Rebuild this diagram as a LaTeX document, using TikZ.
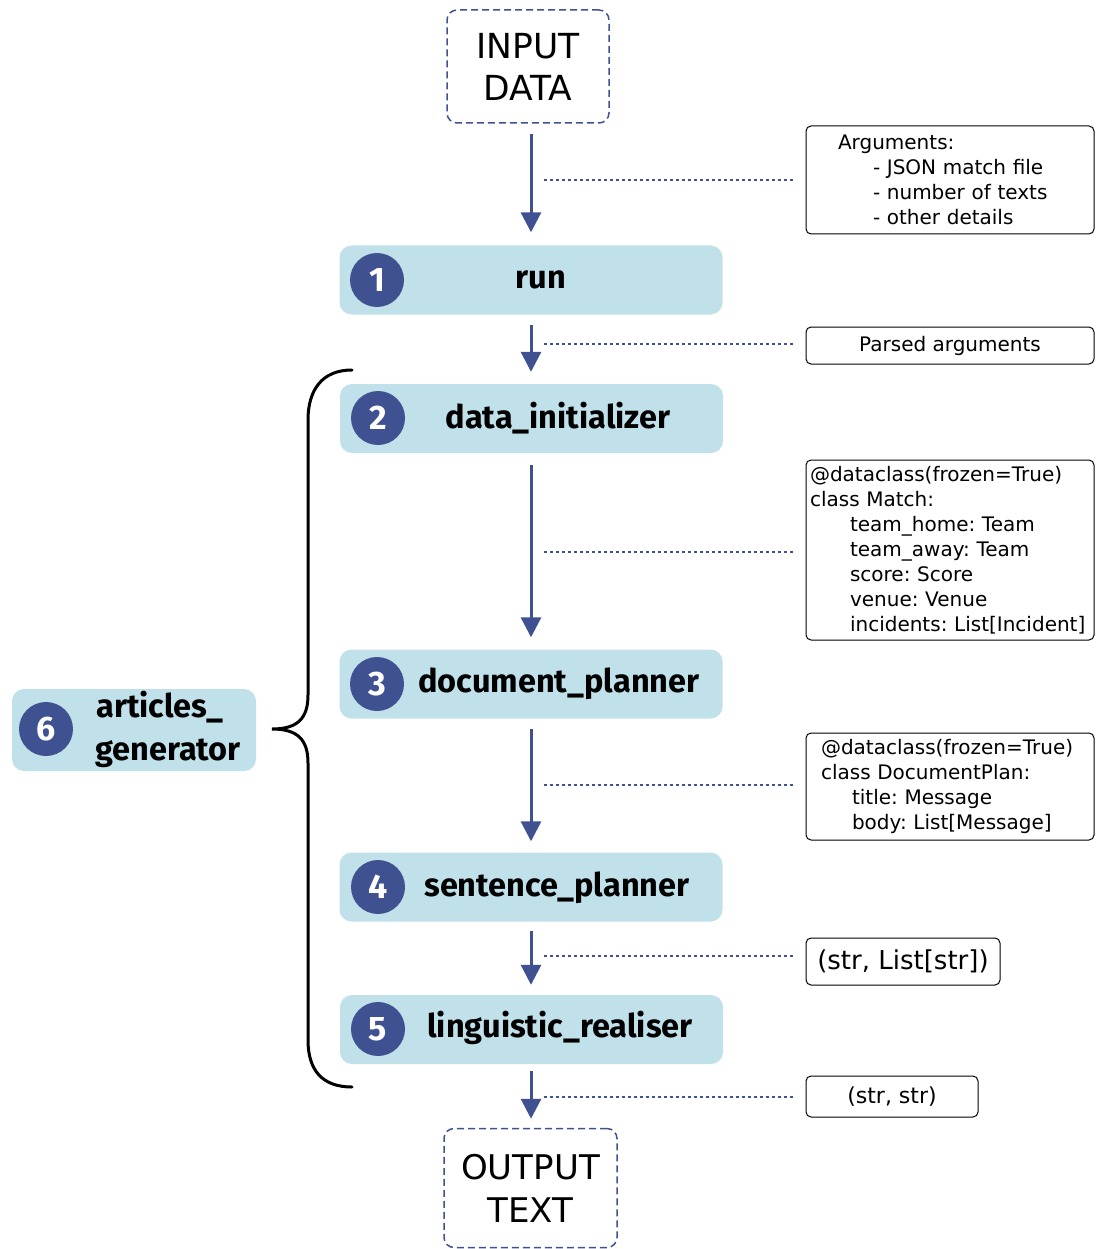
\documentclass[tikz,border=0pt]{standalone}
\usepackage{fontspec}
\setmainfont{DejaVu Sans}
\newfontfamily\labfont{Fira Sans}
\usetikzlibrary{arrows.meta}
\definecolor{navy}{HTML}{3F5190}
\definecolor{lightb}{HTML}{C0E0EA}
\frenchspacing
\tikzset{
  stage/.style={fill=lightb, rounded corners=12pt, minimum width=383pt, minimum height=69pt, inner sep=0pt},
  numc/.style={circle, fill=navy, minimum size=54pt, inner sep=0pt, text=white, font=\labfont\bfseries\fontsize{34}{34}\selectfont},
  stagetxt/.style={font=\labfont\bfseries\fontsize{32.5}{32.5}\selectfont, inner sep=0pt},
  iobox/.style={draw=navy, dashed, dash pattern=on 7pt off 4pt, line width=1.5pt, rounded corners=10pt, inner sep=0pt, align=center, font=\fontsize{34.5}{42}\selectfont},
  infobox/.style={draw=black, line width=1pt, rounded corners=5pt, inner sep=0pt, align=left, font=\fontsize{20}{25}\selectfont},
  flow/.style={draw=navy, line width=3pt, -{Triangle[width=20pt,length=20pt]}},
  dotl/.style={draw=navy, line width=1.5pt, dash pattern=on 3pt off 3pt, shorten >=13pt},
}
\begin{document}
\begin{tikzpicture}[x=1pt,y=-1pt]
\useasboundingbox (0,0) rectangle (1095,1249);
% input/output
\node[iobox, minimum width=162pt, minimum height=113pt] (input) at (528,66.5) {INPUT\\DATA};
\node[iobox, minimum width=173pt, minimum height=119pt, font=\fontsize{34}{43}\selectfont] (output) at (530.5,1188) {OUTPUT\\TEXT};
% stages
\node[stage] (b1) at (531,280) {};
\node[stage] (b2) at (531.5,418.5) {};
\node[stage] (b3) at (531,684) {};
\node[stage] (b4) at (531,887) {};
\node[stage] (b5) at (531.5,1029.5) {};
\node[stage, minimum width=244pt, minimum height=82pt] (b6) at (134,730) {};
\node[numc] (c1) at (377,280) {1};
\node[numc] (c2) at (378,418) {2};
\node[numc] (c3) at (377,684) {3};
\node[numc] (c4) at (378,887) {4};
\node[numc] (c5) at (378,1029) {5};
\node[numc] (c6) at (46,729) {6};
\node[stagetxt] (t1) at (541,280) {run};
\node[stagetxt] (t2) at (558,418) {data\_initializer};
\node[stagetxt] (t3) at (559,684) {document\_planner};
\node[stagetxt] (t4) at (557,888) {sentence\_planner};
\node[stagetxt] (t5) at (560,1028) {linguistic\_realiser};
\node[stagetxt, align=center, font=\labfont\bfseries\fontsize{32.5}{43}\selectfont] (t6) at (168,729) {\hspace*{-16pt}articles\_\\generator};
% info boxes
\node[infobox, text width=288pt, minimum height=108pt] (args) at (950,180) {\hspace*{32pt}Arguments:\\\hspace*{67pt}- JSON match file\\\hspace*{67pt}- number of texts\\\hspace*{67pt}- other details};
\node[infobox, minimum width=288pt, minimum height=37pt, align=center] (parsed) at (950,345.5) {Parsed arguments};
\node[infobox, text width=288pt, minimum height=180pt] (match) at (950,550) {\hspace*{4pt}@dataclass(frozen=True)\\\hspace*{4pt}class Match:\\\hspace*{44pt}team\_home: Team\\\hspace*{44pt}team\_away: Team\\\hspace*{44pt}score: Score\\\hspace*{44pt}venue: Venue\\\hspace*{44pt}incidents: List[Incident]};
\node[infobox, text width=288pt, minimum height=107pt] (docplan) at (950,786.5) {\hspace*{15pt}@dataclass(frozen=True)\\\hspace*{15pt}class DocumentPlan:\\\hspace*{46pt}title: Message\\\hspace*{46pt}body: List[Message]};
\node[infobox, minimum width=194pt, minimum height=47pt, align=center, font=\fontsize{26}{30}\selectfont] (sent) at (903,961.5) {(str, List[str])};
\node[infobox, minimum width=172pt, minimum height=41pt, align=center, font=\fontsize{22}{26}\selectfont] (strs) at (892,1096.5) {(str, str)};
% arrows
\draw[flow, shorten <=10pt, shorten >=13pt] (input.south -| b1.north) -- (b1.north);
\draw[flow, shorten <=10pt, shorten >=12pt] (b1.south) -- (b2.north -| b1.south);
\draw[flow, shorten <=12pt, shorten >=12pt] (b2.south -| b1.south) -- (b3.north);
\draw[flow, shorten <=10pt, shorten >=11pt] (b3.south) -- (b4.north);
\draw[flow, shorten <=9pt, shorten >=10pt] (b4.south) -- (b5.north -| b4.south);
\draw[flow, shorten <=7pt, shorten >=9pt] (b5.south -| b4.south) -- (output.north -| b4.south);
% dotted links
\coordinate (d1) at (544,180);
\coordinate (d2) at (544,344);
\coordinate (d3) at (544,552);
\coordinate (d4) at (544,785);
\coordinate (d5) at (544,956);
\coordinate (d6) at (544,1097);
\draw[dotl] (d1) -- (d1 -| args.west);
\draw[dotl] (d2) -- (d2 -| parsed.west);
\draw[dotl] (d3) -- (d3 -| match.west);
\draw[dotl] (d4) -- (d4 -| docplan.west);
\draw[dotl] (d5) -- (d5 -| sent.west);
\draw[dotl] (d6) -- (d6 -| strs.west);
% brace
\draw[line width=3pt, line cap=round] (352,370) .. controls (322,370) and (308,390) .. (308,420)
  -- (308,695) .. controls (308,718) and (298,729) .. (272,729)
  .. controls (298,729) and (308,740) .. (308,763)
  -- (308,1040) .. controls (308,1070) and (322,1087) .. (352,1087);
\end{tikzpicture}
\end{document}
